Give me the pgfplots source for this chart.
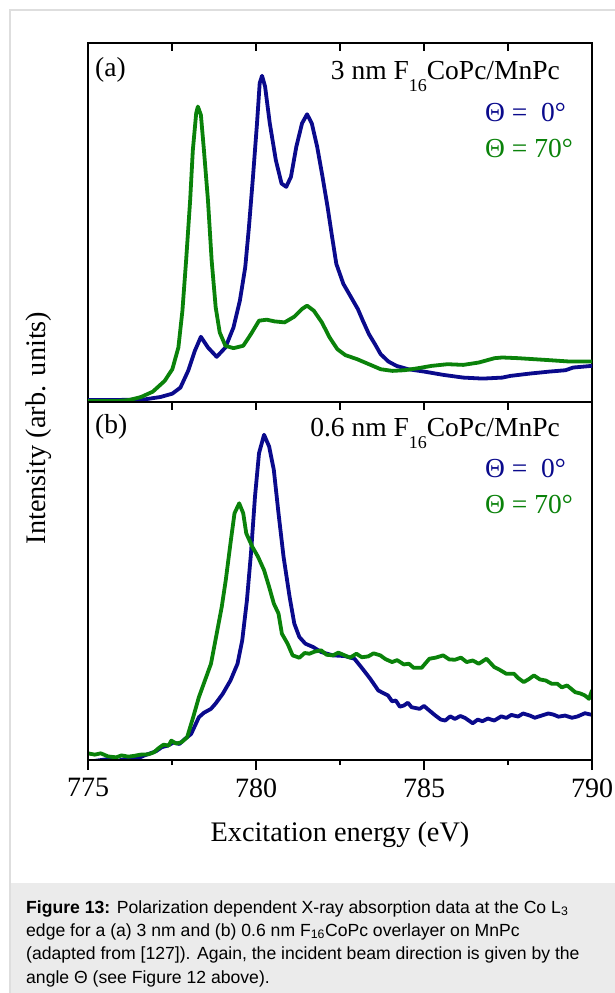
\documentclass[border=0pt]{standalone}
\usepackage{fontspec}
\setmainfont{Liberation Serif}
\newfontfamily\capfont{Liberation Sans}
\usepackage{pgfplots}
\pgfplotsset{compat=1.18}
\definecolor{cblue}{RGB}{10,10,140}
\definecolor{cgreen}{RGB}{10,130,10}
\definecolor{capgray}{RGB}{235,235,235}
\definecolor{bordergray}{RGB}{222,222,222}
\pgfplotsset{panel/.style={scale only axis, width=504bp, xmin=775, xmax=790, ymin=0, ymax=100,
  ytick=\empty, xtick={775,780,785,790}, minor xtick={777.5,782.5,787.5},
  axis line style={line width=1.1bp}, tick style={black, line width=1.1bp},
  xticklabel style={font=\fontsize{28bp}{28bp}\selectfont, yshift=-5bp},
  /pgf/number format/assume math mode=true, /pgf/number format/1000 sep={}},
  curve/.style={line width=3.8bp, line join=round, line cap=round}}
\begin{document}
\begin{tikzpicture}[x=1bp,y=1bp]
\path[use as bounding box] (0,0) rectangle (615,-993);
\fill[white] (0,0) rectangle (615,-993);
\fill[capgray] (10,-883) rectangle (615,-993);
\draw[bordergray, line width=1.5bp] (10,-993) -- (10,-10) -- (615,-10);

% panel (a)
\begin{axis}[panel, at={(88bp,-43bp)}, anchor=north west, height=359bp,
  xtick pos=right, tick align=inside, major tick length=8bp, minor tick length=8bp, xticklabels={}]
\addplot[cblue, curve] coordinates {
(775.00,0.56) (775.88,0.56) (776.70,0.75) (777.16,1.40) (777.51,2.33) (777.75,4.01) (777.98,8.67)
(778.18,14.26) (778.36,18.17) (778.57,15.19) (778.83,12.58) (779.09,15.19) (779.33,20.78) (779.52,28.24)
(779.68,37.56) (779.79,48.74) (779.91,62.72) (780.03,77.63) (780.11,88.82) (780.18,90.87) (780.27,87.88)
(780.41,77.63) (780.59,67.38) (780.76,60.86) (780.90,59.93) (781.04,62.72) (781.20,71.11) (781.37,77.63)
(781.52,80.15) (781.66,77.63) (781.82,71.11) (781.98,62.72) (782.13,54.33) (782.25,46.88) (782.39,38.49)
(782.60,32.90) (782.83,29.17) (783.03,25.91) (783.18,22.65) (783.36,18.92) (783.54,16.12) (783.71,13.33)
(783.94,11.28) (784.18,10.07) (784.53,9.13) (785.00,8.48) (785.58,7.55) (786.17,6.80) (786.75,6.52)
(787.33,6.80) (787.57,7.27) (788.15,7.92) (788.74,8.48) (789.21,8.85) (789.44,9.60) (790.00,10.07)};
\addplot[cgreen, curve] coordinates {
(775.00,0.28) (775.88,0.28) (776.23,0.56) (776.58,1.40) (776.93,2.89) (777.28,5.87) (777.51,9.13)
(777.69,15.19) (777.81,25.44) (777.92,39.42) (778.04,56.20) (778.12,70.18) (778.22,80.43) (778.27,82.29)
(778.36,79.96) (778.45,70.18) (778.57,56.20) (778.68,39.42) (778.80,26.37) (778.92,19.38) (779.09,15.66)
(779.33,15.00) (779.62,15.66) (779.85,18.92) (780.09,22.65) (780.32,22.93) (780.55,22.46) (780.85,22.18)
(781.14,23.77) (781.37,25.91) (781.52,26.84) (781.72,25.44) (781.96,22.18) (782.19,17.99) (782.42,14.73)
(782.66,13.05) (783.01,11.93) (783.36,10.53) (783.71,9.13) (784.06,8.67) (784.41,8.85) (784.76,9.32)
(785.23,10.07) (785.70,10.53) (786.17,10.34) (786.63,11.00) (787.10,12.21) (787.33,12.40) (787.80,12.21)
(788.27,11.93) (788.74,11.65) (789.32,11.28) (790.00,11.28)};
\end{axis}

% panel (b)
\begin{axis}[panel, at={(88bp,-402bp)}, anchor=north west, height=358bp,
  xtick pos=left, tick align=outside, major tick length=10bp, minor tick length=5bp]
\addplot[cblue, curve] coordinates {
(775.00,-0.5) (775.61,0.28) (775.90,-0.2) (776.20,0.56) (776.45,0.3) (776.66,1.21) (777.02,2.43)
(777.20,3.6) (777.37,4.01) (777.55,4.9) (777.72,4.48) (777.90,6.0) (778.07,7.28) (778.30,11.95)
(778.45,13.2) (778.66,14.29) (778.80,15.8) (779.01,18.49) (779.24,22.22) (779.45,26.89) (779.59,33.43)
(779.73,44.63) (779.85,57.70) (779.97,73.58) (780.09,85.71) (780.24,90.85) (780.39,87.58) (780.53,81.05)
(780.67,68.91) (780.82,56.77) (781.00,45.56) (781.14,38.10) (781.29,34.36) (781.47,32.49) (781.70,31.56)
(781.94,30.16) (782.29,29.23) (782.64,29.04) (782.93,28.29) (783.17,25.49) (783.40,22.69) (783.64,19.42)
(783.93,18.02) (784.05,16.4) (784.16,16.62) (784.28,14.9) (784.40,15.22) (784.52,16.0) (784.63,14.75)
(784.87,14.29) (785.00,15.1) (785.16,13.82) (785.34,12.42) (785.50,11.3) (785.63,11.02) (785.78,12.2)
(785.92,11.48) (786.08,12.3) (786.22,11.76) (786.45,10.27) (786.60,11.3) (786.74,10.83) (786.90,11.6)
(787.09,11.02) (787.30,12.2) (787.45,11.76) (787.60,12.6) (787.80,12.14) (787.95,13.0) (788.15,12.42)
(788.30,11.8) (788.50,12.42) (788.70,13.0) (788.85,12.70) (789.00,12.1) (789.20,12.42) (789.40,11.8)
(789.56,12.14) (789.79,13.07) (790.00,12.61)};
\addplot[cgreen, curve] coordinates {
(775.00,1.87) (775.20,1.5) (775.38,1.87) (775.60,1.0) (775.84,0.75) (776.00,1.3) (776.20,0.93)
(776.40,1.2) (776.55,1.49) (776.80,1.6) (776.96,2.15) (777.10,3.3) (777.25,4.30) (777.40,4.0)
(777.48,5.42) (777.62,4.6) (777.78,4.95) (777.95,6.35) (778.13,11.95) (778.30,17.55) (778.48,22.22)
(778.66,26.89) (778.83,35.29) (778.98,42.76) (779.10,50.23) (779.24,60.50) (779.36,68.91) (779.50,71.71)
(779.62,68.91) (779.71,63.31) (779.89,59.57) (780.06,56.77) (780.24,53.03) (780.39,48.37) (780.53,43.70)
(780.67,40.90) (780.77,35.29) (780.94,32.49) (781.09,29.23) (781.29,28.57) (781.45,29.9) (781.59,29.69)
(781.75,30.3) (781.94,30.63) (782.10,29.4) (782.29,29.23) (782.45,30.0) (782.64,29.23) (782.80,28.6)
(782.99,29.69) (783.15,28.7) (783.34,28.94) (783.50,29.8) (783.70,29.23) (783.85,28.2) (784.05,27.36)
(784.20,27.9) (784.40,26.70) (784.55,26.9) (784.69,25.77) (784.93,25.77) (785.16,28.29) (785.35,28.6)
(785.57,29.23) (785.75,28.1) (785.92,28.01) (786.10,28.6) (786.27,27.36) (786.45,27.8) (786.63,26.89)
(786.86,28.29) (787.09,25.96) (787.25,25.2) (787.45,24.09) (787.68,24.09) (787.80,22.9) (787.97,21.76)
(788.12,22.6) (788.27,23.62) (788.45,22.5) (788.62,22.22) (788.80,21.3) (788.97,21.29) (789.10,20.3)
(789.26,20.82) (789.50,18.95) (789.65,18.6) (789.79,18.02) (789.91,17.09) (790.00,19.42)};
\end{axis}
\begin{axis}[panel, at={(88bp,-402bp)}, anchor=north west, height=358bp,
  xtick pos=right, tick align=inside, major tick length=8bp, minor tick length=8bp, xticklabels={}]
\end{axis}

\begin{scope}[every node/.style={font=\fontsize{27.5bp}{30bp}\selectfont, inner sep=0pt}]
\node[anchor=west] at (95,-70) {(a)};
\node[anchor=base east] at (560,-79) {3 nm F\raisebox{-12bp}{\fontsize{18bp}{18bp}\selectfont 16}CoPc/MnPc};
\node[anchor=base west, text=cblue] at (485,-121) {Θ =\ \ 0°};
\node[anchor=base west, text=cgreen] at (485,-157) {Θ = 70°};
\node[anchor=west] at (95,-427) {(b)};
\node[anchor=base east] at (560,-436) {0.6 nm F\raisebox{-12bp}{\fontsize{18bp}{18bp}\selectfont 16}CoPc/MnPc};
\node[anchor=base west, text=cblue] at (485,-477) {Θ =\ \ 0°};
\node[anchor=base west, text=cgreen] at (485,-513) {Θ = 70°};
\end{scope}
\node[font=\fontsize{28.3bp}{30bp}\selectfont] at (340,-835) {Excitation energy (eV)};
\node[font=\fontsize{28.3bp}{30bp}\selectfont, rotate=90] at (39,-428) {Intensity (arb. units)};

\begin{scope}[every node/.style={font=\capfont\fontsize{17.6bp}{20bp}\selectfont, inner sep=0pt, anchor=base west}]
\node at (26,-913) {\textbf{Figure 13:} Polarization dependent X-ray absorption data at the Co L\textsubscript{3}};
\node at (26,-936.3) {edge for a (a) 3 nm and (b) 0.6 nm F\textsubscript{16}CoPc overlayer on MnPc};
\node at (26,-959.6) {(adapted from [127]). Again, the incident beam direction is given by the};
\node at (26,-983) {angle Θ (see Figure 12 above).};
\end{scope}
\end{tikzpicture}
\end{document}
